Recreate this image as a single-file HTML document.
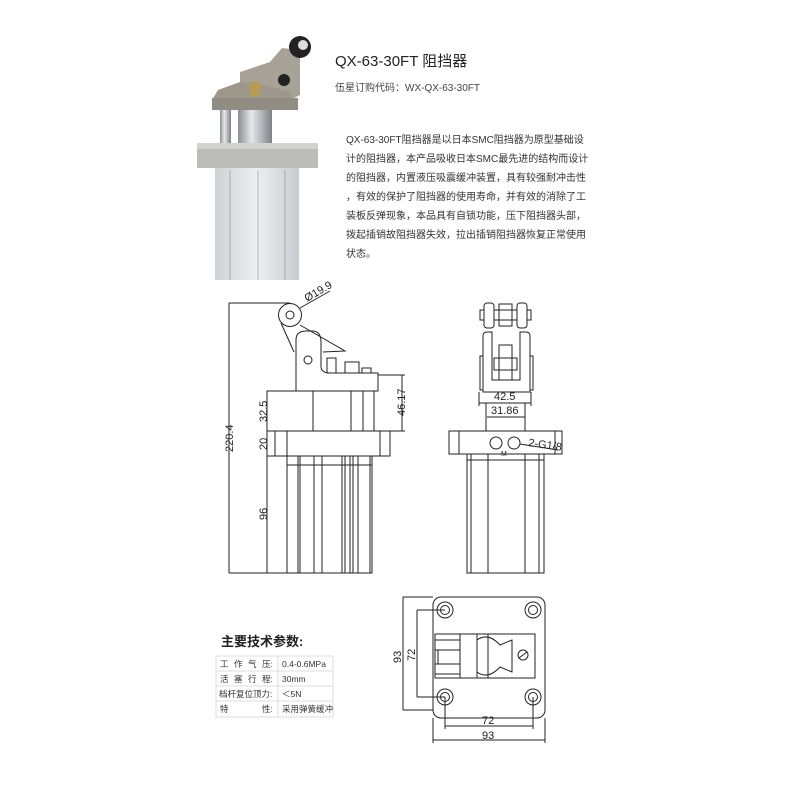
<!DOCTYPE html>
<html><head><meta charset="utf-8"><style>
body{margin:0;background:#fff;}
svg{display:block;}
text{font-family:"Liberation Sans","Noto Sans CJK SC",sans-serif;}
</style></head><body>
<svg width="800" height="800" viewBox="0 0 800 800" xmlns="http://www.w3.org/2000/svg">
<defs>
<linearGradient id="rod" x1="0" x2="1"><stop offset="0" stop-color="#8a8f95"/><stop offset=".4" stop-color="#e6e8ea"/><stop offset="1" stop-color="#7d8187"/></linearGradient>
<linearGradient id="body" x1="0" x2="1"><stop offset="0" stop-color="#cfd2d5"/><stop offset=".5" stop-color="#eceef0"/><stop offset="1" stop-color="#c8cbce"/></linearGradient>
</defs>
<!-- photo -->
<rect x="220" y="105" width="11" height="40" fill="url(#rod)"/>
<rect x="238" y="105" width="34" height="40" fill="url(#rod)"/>
<path d="M240 72 L270 62 L282 48 L300 50 L300 95 L290 100 L240 100 Z" fill="#a8a196"/>
<path d="M212 100 L218 90 L240 82 L262 85 L290 92 L296 108 L212 110 Z" fill="#9d978c"/>
<rect x="212" y="98" width="86" height="12" fill="#928d83"/>
<rect x="250" y="82" width="10" height="14" fill="#b89a50"/>
<circle cx="300" cy="47" r="11" fill="#222"/><circle cx="303" cy="45" r="5" fill="#ddd"/>
<circle cx="284" cy="80" r="6" fill="#222"/>
<rect x="197" y="143" width="121" height="25" fill="#bcbcb8"/>
<rect x="197" y="143" width="121" height="6" fill="#d2d2ce"/>
<rect x="215" y="168" width="84" height="112" fill="url(#body)"/>
<line x1="230" y1="170" x2="230" y2="280" stroke="#aaa"/>
<line x1="258" y1="170" x2="258" y2="280" stroke="#b5b5b5"/>
<line x1="285" y1="170" x2="285" y2="280" stroke="#aaa"/>
<!-- title -->
<text x="335" y="66" font-size="15" fill="#222">QX-63-30FT 阻挡器</text>
<text x="335" y="91" font-size="10" fill="#444">伍星订购代码：WX-QX-63-30FT</text>
<g font-size="10" fill="#333">
<text x="346" y="143">QX-63-30FT阻挡器是以日本SMC阻挡器为原型基础设</text>
<text x="346" y="162">计的阻挡器，本产品吸收日本SMC最先进的结构而设计</text>
<text x="346" y="181">的阻挡器，内置液压吸震缓冲装置，具有较强耐冲击性</text>
<text x="346" y="200">，有效的保护了阻挡器的使用寿命，并有效的消除了工</text>
<text x="346" y="219">装板反弹现象，本品具有自锁功能，压下阻挡器头部，</text>
<text x="346" y="238">拨起插销故阻挡器失效，拉出插销阻挡器恢复正常使用</text>
<text x="346" y="257">状态。</text>
</g>
<g fill="none" stroke="#222" stroke-width="1">
<!-- left view -->
<line x1="229" y1="303" x2="229" y2="573"/><line x1="229" y1="303" x2="290" y2="303"/><line x1="229" y1="573" x2="290" y2="573"/>
<line x1="267" y1="391" x2="267" y2="573"/><line x1="267" y1="431" x2="275" y2="431"/><line x1="267" y1="456" x2="287" y2="456"/>
<circle cx="290" cy="315" r="11.5"/><circle cx="290" cy="315" r="4"/>
<line x1="300" y1="308" x2="330" y2="291"/>
<path d="M281 323 L294 352 M300 325 L345 351 L323 352"/>
<path d="M296 391 L296 340 Q296 331 306 331 L312 331 Q321 331 321 342 L321 366 Q321 373 330 373 L378 373 L378 391 Z"/>
<circle cx="308" cy="360" r="4"/>
<rect x="327" y="358" width="9" height="15"/><rect x="345" y="362" width="14" height="11"/><rect x="362" y="368" width="9" height="5"/>
<rect x="267" y="391" width="107" height="40"/>
<line x1="313" y1="391" x2="313" y2="431"/><line x1="351" y1="391" x2="351" y2="431"/><line x1="363" y1="391" x2="363" y2="431"/>
<rect x="275" y="431" width="115" height="25"/><line x1="287" y1="431" x2="287" y2="456"/><line x1="380" y1="431" x2="380" y2="456"/>
<rect x="287" y="456" width="85" height="117"/>
<path d="M298 456V573 M300 456V573 M314 456V573 M322 456V573 M342 456V573 M345 456V573 M350 456V573 M353 456V573 M358 456V573 M370 456V573 M287 465H372"/>
<line x1="378" y1="375" x2="405" y2="375"/><line x1="374" y1="431" x2="405" y2="431"/><line x1="402" y1="375" x2="402" y2="431"/>
<!-- right view -->
<rect x="484" y="303" width="10" height="25" rx="3"/><rect x="517" y="303" width="10" height="25" rx="3"/>
<rect x="480" y="310" width="4" height="10"/><rect x="527" y="310" width="4" height="10"/><rect x="494" y="310" width="23" height="10"/><rect x="499" y="304" width="13" height="22"/>
<path d="M483 392V336Q483 332 487 332H492V380H520V332H526Q530 332 530 336V392Z"/>
<rect x="499" y="345" width="13" height="35"/><rect x="494" y="358" width="23" height="12"/>
<rect x="480" y="356" width="3" height="34"/><rect x="530" y="356" width="3" height="34"/>
<line x1="479" y1="392" x2="479" y2="406"/><line x1="531" y1="392" x2="531" y2="406"/><line x1="479" y1="403" x2="531" y2="403"/>
<line x1="487" y1="417" x2="525" y2="417"/>
<rect x="486" y="403" width="39" height="28"/>
<rect x="449" y="431" width="113" height="23"/><line x1="459" y1="431" x2="459" y2="454"/><line x1="555" y1="431" x2="555" y2="454"/>
<circle cx="496" cy="443" r="6"/><circle cx="514" cy="443" r="6"/>
<line x1="520" y1="444" x2="558" y2="450"/>
<rect x="467" y="454" width="77" height="119"/>
<path d="M471 454V573 M488 454V573 M525 454V573 M539 454V573 M467 460H544"/>
<!-- bottom view -->
<rect x="433" y="597" width="112" height="121" rx="8"/>
<circle cx="445" cy="610" r="8"/><circle cx="445" cy="610" r="4.5"/>
<circle cx="533" cy="610" r="8"/><circle cx="533" cy="610" r="4.5"/>
<circle cx="445" cy="697" r="8"/><circle cx="445" cy="697" r="4.5"/>
<circle cx="533" cy="697" r="8"/><circle cx="533" cy="697" r="4.5"/>
<rect x="435" y="634" width="100" height="44"/>
<rect x="435" y="640" width="25" height="10"/><rect x="435" y="664" width="25" height="10"/>
<rect x="438" y="650" width="22" height="14"/>
<path d="M460 634V678 M477 634V678 M488 634V678 M477 640Q488 632 500 645L512 640V672L500 667Q488 680 477 672"/>
<circle cx="523" cy="655" r="5"/><line x1="519" y1="658" x2="527" y2="652"/>
<line x1="403" y1="597" x2="433" y2="597"/><line x1="403" y1="710" x2="433" y2="710"/><line x1="403" y1="597" x2="403" y2="710"/>
<line x1="417" y1="610" x2="445" y2="610"/><line x1="417" y1="697" x2="445" y2="697"/><line x1="417" y1="610" x2="417" y2="697"/>
<line x1="445" y1="697" x2="445" y2="729"/><line x1="533" y1="697" x2="533" y2="729"/><line x1="445" y1="726" x2="533" y2="726"/>
<line x1="433" y1="718" x2="433" y2="743"/><line x1="545" y1="718" x2="545" y2="743"/><line x1="433" y1="740" x2="545" y2="740"/>
</g>
<g font-size="11" fill="#222">
<text transform="translate(233,452) rotate(-90)">220.4</text>
<text transform="translate(267,422) rotate(-90)">32.5</text>
<text transform="translate(267,450) rotate(-90)">20</text>
<text transform="translate(267,520) rotate(-90)">96</text>
<text transform="translate(405,416) rotate(-90)">46.17</text>
<text transform="translate(307,302) rotate(-30)">Ø19.9</text>
<text x="494" y="400">42.5</text>
<text x="491" y="414">31.86</text>
<text transform="translate(528,446) rotate(8)">2-G1/8</text>
<text x="501" y="456" font-size="7">M</text>
<text transform="translate(401,663) rotate(-90)">93</text>
<text transform="translate(415,661) rotate(-90)">72</text>
<text x="482" y="724">72</text>
<text x="482" y="739">93</text>
</g>
<text x="221" y="646" font-size="13" font-weight="bold" fill="#222">主要技术参数:</text>
<g stroke="#ddd" fill="none">
<rect x="216" y="656" width="117" height="61"/>
<line x1="216" y1="671" x2="333" y2="671"/><line x1="216" y1="686" x2="333" y2="686"/><line x1="216" y1="701" x2="333" y2="701"/>
<line x1="278" y1="656" x2="278" y2="717"/>
</g>
<g font-size="8.5" fill="#333">
<text x="220" y="667">工</text><text x="234" y="667">作</text><text x="248" y="667">气</text><text x="262" y="667">压:</text><text x="282" y="667">0.4-0.6MPa</text>
<text x="220" y="682">活</text><text x="234" y="682">塞</text><text x="248" y="682">行</text><text x="262" y="682">程:</text><text x="282" y="682">30mm</text>
<text x="219" y="697">档杆复位顶力:</text><text x="282" y="697">＜5N</text>
<text x="220" y="712">特</text><text x="262" y="712">性:</text><text x="282" y="712">采用弹簧缓冲</text>
</g>
</svg>
</body></html>
